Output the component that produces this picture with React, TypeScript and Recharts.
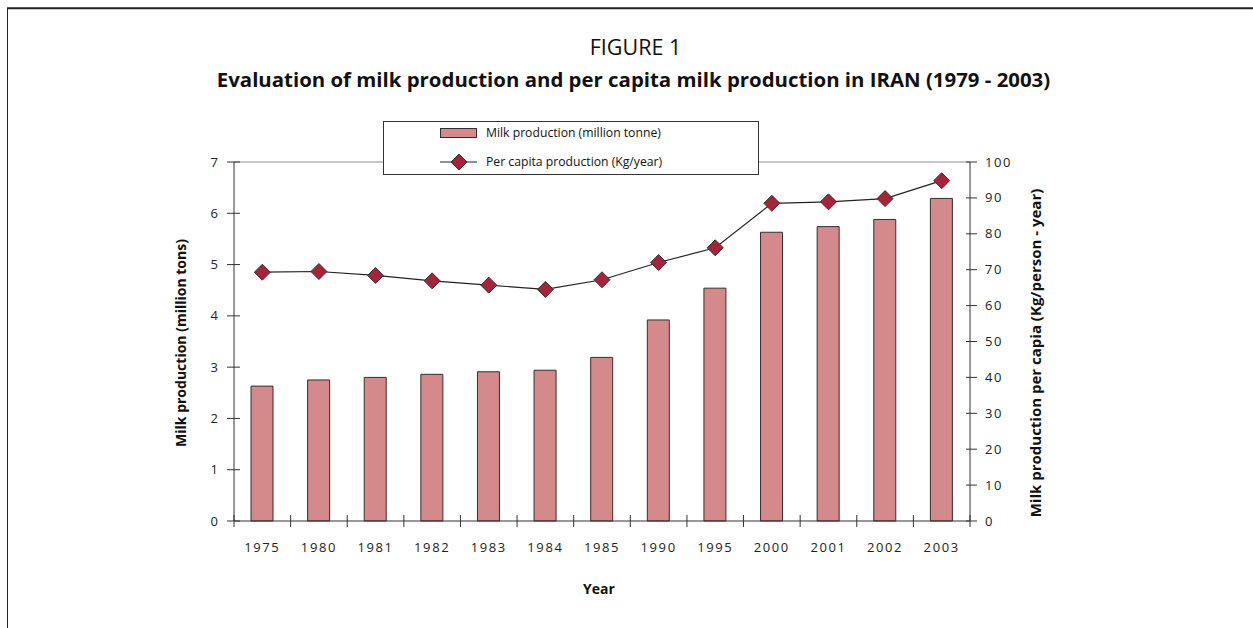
import React from 'react';
import { ComposedChart, Bar, Line, XAxis, YAxis, ReferenceLine } from 'recharts';

const years = ['1975', '1980', '1981', '1982', '1983', '1984', '1985', '1990', '1995', '2000', '2001', '2002', '2003'];
const milkProduction = [2.63, 2.75, 2.8, 2.86, 2.91, 2.94, 3.19, 3.92, 4.54, 5.63, 5.74, 5.88, 6.29];
const perCapita = [69.3, 69.5, 68.4, 66.9, 65.7, 64.5, 67.2, 72.0, 76.1, 88.5, 88.9, 89.8, 94.8];
const leftTicks = [0, 1, 2, 3, 4, 5, 6, 7];
const rightTicks = [0, 10, 20, 30, 40, 50, 60, 70, 80, 90, 100];

const data = years.map((y, i) => ({ year: y, milk: milkProduction[i], perCapita: perCapita[i] }));

const FONT = '"Open Sans", "DejaVu Sans", sans-serif';
const BAR_FILL = '#d4898a';
const BAR_STROKE = '#3d2b2b';
const DIAMOND_FILL = '#a8233a';
const AXIS = '#333';

const Diamond = (props: any) => {
  const { cx, cy } = props;
  if (cx == null || cy == null) return null;
  const r = 8;
  return (
    <polygon
      points={`${cx},${cy - r} ${cx + r},${cy} ${cx},${cy + r} ${cx - r},${cy}`}
      fill={DIAMOND_FILL}
      stroke="#333"
      strokeWidth={1}
    />
  );
};

const CatTick = (props: any) => {
  const { x, y, payload } = props;
  const half = payload && payload.offset ? payload.offset : 0;
  const isLast = payload && payload.index === years.length - 1;
  return (
    <g>
      <line x1={x - half} x2={x - half} y1={y - 6} y2={y + 6} stroke={AXIS} strokeWidth={1} />
      {isLast ? <line x1={x + half} x2={x + half} y1={y - 6} y2={y + 6} stroke={AXIS} strokeWidth={1} /> : null}
      <text x={x} y={y + 31} textAnchor="middle" fontFamily={FONT} fontSize={13} fill="#222" letterSpacing={1.6}>
        {payload.value}
      </text>
    </g>
  );
};

const LeftTick = (props: any) => {
  const { x, y, payload } = props;
  return (
    <g>
      <line x1={x - 7} x2={x + 6} y1={y} y2={y} stroke={AXIS} strokeWidth={1} />
      <text x={x - 16} y={y + 4.5} textAnchor="end" fontFamily={FONT} fontSize={13} fill="#222">
        {payload.value}
      </text>
    </g>
  );
};

const RightTick = (props: any) => {
  const { x, y, payload } = props;
  return (
    <g>
      <line x1={x - 4} x2={x + 7} y1={y} y2={y} stroke={AXIS} strokeWidth={1} />
      <text x={x + 15} y={y + 4.5} textAnchor="start" fontFamily={FONT} fontSize={13} fill="#222" letterSpacing={1.6}>
        {payload.value}
      </text>
    </g>
  );
};

export default function App() {
  return (
    <div style={{ position: 'absolute', left: 0, top: 0, width: 1253, height: 628, background: '#fff', overflow: 'hidden' }}>
      <ComposedChart
        width={1253}
        height={628}
        data={data}
        margin={{ top: 162, right: 223, bottom: 67, left: 174 }}
      >
        <XAxis
          xAxisId="cat"
          dataKey="year"
          height={40}
          axisLine={{ stroke: AXIS, strokeWidth: 1 }}
          tickLine={false}
          tickSize={0}
          tickMargin={0}
          tick={<CatTick />}
          interval={0}
        />
        <YAxis
          yAxisId="left"
          orientation="left"
          width={60}
          domain={[0, 7]}
          ticks={leftTicks}
          axisLine={{ stroke: AXIS, strokeWidth: 1 }}
          tickLine={false}
          tickSize={0}
          tickMargin={0}
          tick={<LeftTick />}
          interval={0}
        />
        <YAxis
          yAxisId="right"
          orientation="right"
          width={60}
          domain={[0, 100]}
          ticks={rightTicks}
          axisLine={{ stroke: AXIS, strokeWidth: 1 }}
          tickLine={false}
          tickSize={0}
          tickMargin={0}
          tick={<RightTick />}
          interval={0}
        />
        <ReferenceLine xAxisId="cat" yAxisId="left" y={7} stroke="#b5b5b5" strokeWidth={1.5} />
        <Bar
          xAxisId="cat"
          yAxisId="left"
          dataKey="milk"
          fill={BAR_FILL}
          stroke={BAR_STROKE}
          strokeWidth={1}
          barSize={22}
          isAnimationActive={false}
        />
        <Line
          xAxisId="cat"
          yAxisId="right"
          type="linear"
          dataKey="perCapita"
          stroke="#222"
          strokeWidth={1.2}
          dot={<Diamond />}
          activeDot={false}
          isAnimationActive={false}
        />
      </ComposedChart>

      <svg
        width={1253}
        height={628}
        style={{ position: 'absolute', left: 0, top: 0, pointerEvents: 'none' }}
      >
        {/* frame */}
        <line x1={7} x2={1253} y1={8.3} y2={8.3} stroke="#222" strokeWidth={2} />
        <line x1={7.5} x2={7.5} y1={8} y2={628} stroke="#222" strokeWidth={1} />

        {/* titles */}
        <text x={635.5} y={55} textAnchor="middle" fontFamily={FONT} fontSize={21.5} fill="#111">
          FIGURE 1
        </text>
        <text x={633.5} y={87} textAnchor="middle" fontFamily={FONT} fontSize={20.4} fontWeight="bold" fill="#111">
          Evaluation of milk production and per capita milk production in IRAN (1979 - 2003)
        </text>

        {/* axis titles */}
        <text
          x={0}
          y={0}
          transform="translate(186,343) rotate(-90)"
          textAnchor="middle"
          fontFamily={FONT}
          fontSize={14}
          fontWeight="bold"
          fill="#111"
        >
          Milk production (million tons)
        </text>
        <text
          x={0}
          y={0}
          transform="translate(1041,353) rotate(-90)"
          textAnchor="middle"
          fontFamily={FONT}
          fontSize={15}
          fontWeight="bold"
          fill="#111"
        >
          Milk production per capia (Kg/person - year)
        </text>
        <text x={599} y={594} textAnchor="middle" fontFamily={FONT} fontSize={14} fontWeight="bold" fill="#111">
          Year
        </text>

        {/* legend */}
        <rect x={383.5} y={121.5} width={375} height={53} fill="#fff" stroke="#333" strokeWidth={1} />
        <rect x={440.5} y={128.5} width={36} height={9} fill={BAR_FILL} stroke={BAR_STROKE} strokeWidth={1} />
        <text x={486} y={137} fontFamily={FONT} fontSize={12.2} fill="#111">
          Milk production (million tonne)
        </text>
        <line x1={440} x2={477} y1={162} y2={162} stroke="#222" strokeWidth={1.2} />
        <polygon points="459,154 467,162 459,170 451,162" fill={DIAMOND_FILL} stroke="#333" strokeWidth={1} />
        <text x={486} y={166} fontFamily={FONT} fontSize={12.2} fill="#111">
          Per capita production (Kg/year)
        </text>
      </svg>
    </div>
  );
}
